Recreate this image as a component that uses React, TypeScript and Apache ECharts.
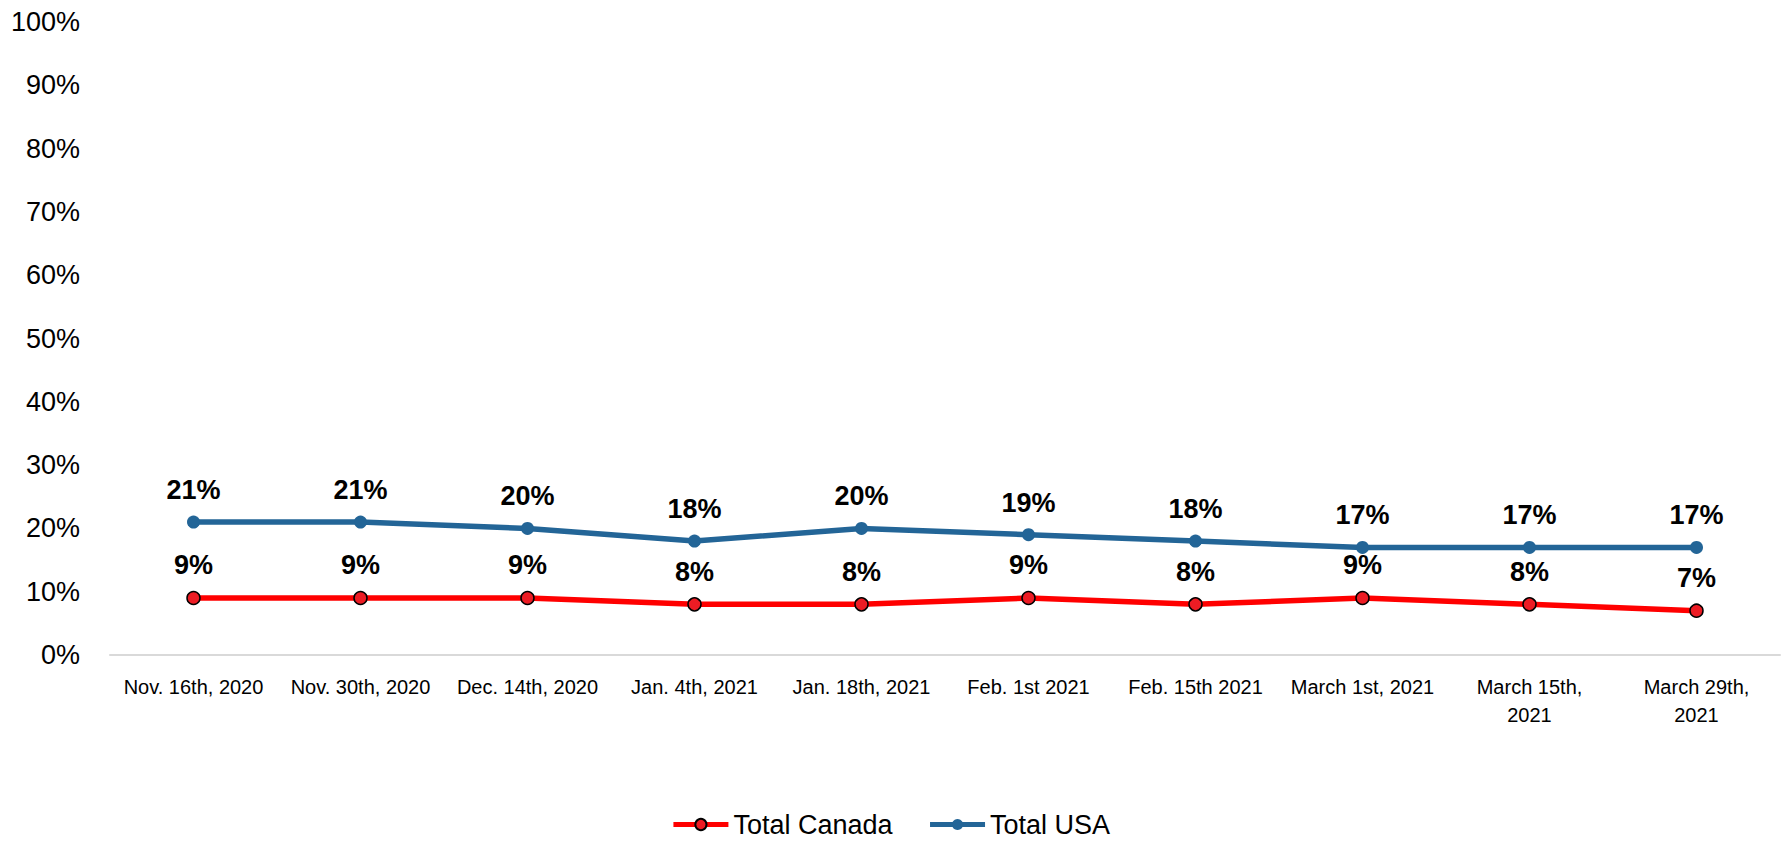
import React, { useEffect, useRef } from "react";
import * as echarts from "echarts";

const categories = [
  "Nov. 16th, 2020",
  "Nov. 30th, 2020",
  "Dec. 14th, 2020",
  "Jan. 4th, 2021",
  "Jan. 18th, 2021",
  "Feb. 1st 2021",
  "Feb. 15th 2021",
  "March 1st, 2021",
  "March 15th,\n2021",
  "March 29th,\n2021",
];
const canada = [9, 9, 9, 8, 8, 9, 8, 9, 8, 7];
const usa = [21, 21, 20, 18, 20, 19, 18, 17, 17, 17];

const FONT = "'Liberation Sans', Arial, sans-serif";

export default function App() {
  const ref = useRef<HTMLDivElement>(null);
  useEffect(() => {
    if (!ref.current) return;
    const chart = echarts.init(ref.current, null, { renderer: "svg" });
    const label = {
      show: true,
      position: "top",
      distance: 12,
      formatter: "{c}%",
      color: "#000",
      fontWeight: "bold",
      fontSize: 27,
      fontFamily: FONT,
    };
    chart.setOption({
      animation: false,
      backgroundColor: "#fff",
      textStyle: { fontFamily: FONT },
      grid: { left: 110, right: 1, top: 22, bottom: 200, containLabel: false },
      legend: {
        bottom: 12,
        left: "center",
        itemGap: 35,
        itemWidth: 55,
        itemHeight: 14,
        lineStyle: { width: 5 },
        textStyle: { fontSize: 27, color: "#000", fontFamily: FONT },
        data: ["Total Canada", "Total USA"],
      },
      xAxis: {
        type: "category",
        data: categories,
        boundaryGap: true,
        axisLine: { show: true, lineStyle: { color: "#d9d9d9", width: 2 } },
        axisTick: { show: false },
        axisLabel: {
          interval: 0,
          color: "#000",
          fontSize: 20,
          lineHeight: 28,
          margin: 18,
          fontFamily: FONT,
        },
      },
      yAxis: {
        type: "value",
        min: 0,
        max: 100,
        interval: 10,
        axisLine: { show: false },
        axisTick: { show: false },
        splitLine: { show: false },
        axisLabel: {
          formatter: "{value}%",
          color: "#000",
          fontSize: 27,
          margin: 30,
          fontFamily: FONT,
        },
      },
      series: [
        {
          name: "Total Canada",
          type: "line",
          data: canada,
          symbol: "circle",
          symbolSize: 13,
          lineStyle: { color: "#ff0000", width: 5.5 },
          itemStyle: { color: "#ed1c24", borderColor: "#000", borderWidth: 1.5 },
          label,
          z: 3,
        },
        {
          name: "Total USA",
          type: "line",
          data: usa,
          symbol: "circle",
          symbolSize: 13,
          lineStyle: { color: "#236597", width: 5.5 },
          itemStyle: { color: "#236597" },
          label,
          z: 2,
        },
      ],
    });
    return () => chart.dispose();
  }, []);
  return (
    <div
      ref={ref}
      style={{ position: "fixed", left: 0, top: 0, width: 1781, height: 855 }}
    />
  );
}
